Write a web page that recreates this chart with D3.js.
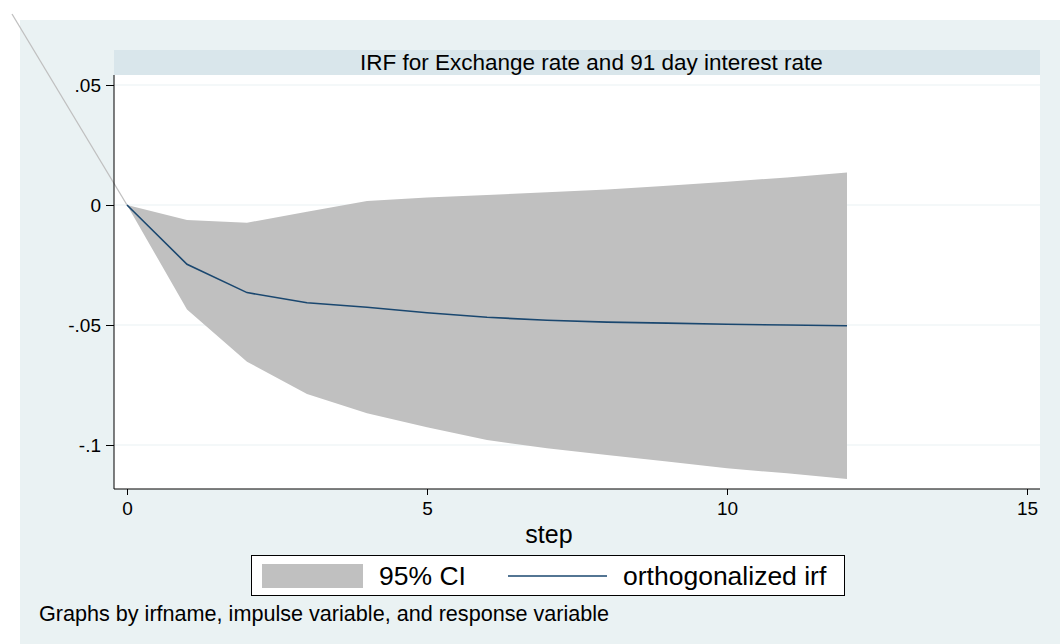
<!DOCTYPE html>
<html><head><meta charset="utf-8">
<script src="https://cdn.jsdelivr.net/npm/d3@7"></script>
<style>body{margin:0;background:#fff}svg{display:block;font-family:"Liberation Sans",Arial,sans-serif}</style>
</head><body><svg id="c" width="1060" height="644"></svg>
<script>
const steps = [0,1,2,3,4,5,6,7,8,9,10,11,12];
const irf   = [0,-0.0247,-0.0365,-0.0407,-0.0426,-0.0449,-0.0468,-0.0480,-0.0488,-0.0492,-0.0497,-0.0500,-0.0503];
const upper = [0,-0.0063,-0.0074,-0.0028,0.0017,0.0031,0.0042,0.0053,0.0065,0.0080,0.0097,0.0115,0.0135];
const lower = [0,-0.0435,-0.0653,-0.0788,-0.0868,-0.0926,-0.0979,-0.1014,-0.1042,-0.1069,-0.1097,-0.1118,-0.1142];
const xTicks = [0,5,10,15];
const yTicks = [0.05,0,-0.05,-0.1];
const yTickLabels = [".05","0","-.05","-.1"];
const title = "IRF for Exchange rate and 91 day interest rate";
const legendLabels = ["95% CI","orthogonalized irf"];
const note = "Graphs by irfname, impulse variable, and response variable";

const svg = d3.select("#c");
const L=114, R=1040, T=75, B=489;
const x = d3.scaleLinear().domain([0,15]).range([127,1027]);
const y = d3.scaleLinear().domain([0,0.05]).range([205,85]);

svg.append("rect").attr("x",20).attr("y",20).attr("width",1040).attr("height",624).attr("fill","#EAF2F3");
svg.append("rect").attr("x",L).attr("y",T).attr("width",R-L).attr("height",B-T).attr("fill","#fff");
svg.append("rect").attr("x",L).attr("y",50).attr("width",R-L).attr("height",T-50).attr("fill","#D9E6EB");
svg.append("text").attr("x",360).attr("y",69.5).attr("font-size",22.5).attr("fill","#000").text(title);

// grid
svg.append("g").selectAll("line").data(yTicks).join("line")
  .attr("x1",L).attr("x2",R).attr("y1",d=>y(d)).attr("y2",d=>y(d))
  .attr("stroke","#EAF2F3").attr("stroke-width",1.2);

const data = steps.map((s,i)=>({s,irf:irf[i],lo:lower[i],hi:upper[i]}));
svg.append("path").datum(data)
  .attr("d",d3.area().x(d=>x(d.s)).y0(d=>y(d.lo)).y1(d=>y(d.hi)))
  .attr("fill","#C0C0C0");
// stray gray line toward the origin
svg.append("line").attr("x1",12).attr("y1",14).attr("x2",x(0)).attr("y2",y(0))
  .attr("stroke","#C0C0C0").attr("stroke-width",1.3);
svg.append("path").datum(data)
  .attr("d",d3.line().x(d=>x(d.s)).y(d=>y(d.irf)))
  .attr("fill","none").attr("stroke","#1A476F").attr("stroke-width",1.6);

// axes
const ya = svg.append("g").attr("transform",`translate(${L},0)`)
  .call(d3.axisLeft(y).tickValues(yTicks).tickSize(8).tickPadding(5).tickFormat((d,i)=>yTickLabels[i]));
ya.select(".domain").attr("d",`M0,${T}V${B}`).attr("stroke","#000");
const xa = svg.append("g").attr("transform",`translate(0,${B})`)
  .call(d3.axisBottom(x).tickValues(xTicks).tickSize(6).tickPadding(7).tickFormat(d3.format("d")));
xa.select(".domain").attr("d",`M${L},0H${R}`).attr("stroke","#000");
svg.selectAll(".tick text").attr("font-size",19).attr("font-family","Liberation Sans, Arial, sans-serif").attr("fill","#000");
svg.selectAll(".tick line").attr("stroke","#000");

svg.append("text").attr("x",549).attr("y",543).attr("text-anchor","middle").attr("font-size",25).text("step");

// legend
svg.append("rect").attr("x",251.5).attr("y",555.5).attr("width",593).attr("height",40).attr("fill","#fff").attr("stroke","#000");
svg.append("rect").attr("x",262).attr("y",564).attr("width",101).attr("height",24).attr("fill","#C0C0C0");
svg.append("text").attr("x",379).attr("y",585).attr("font-size",26.5).text(legendLabels[0]);
svg.append("line").attr("x1",508).attr("x2",607).attr("y1",576).attr("y2",576).attr("stroke","#1A476F").attr("stroke-width",1.6);
svg.append("text").attr("x",623).attr("y",585).attr("font-size",26.5).text(legendLabels[1]);

svg.append("text").attr("x",39).attr("y",621).attr("font-size",21.6).text(note);
</script></body></html>
